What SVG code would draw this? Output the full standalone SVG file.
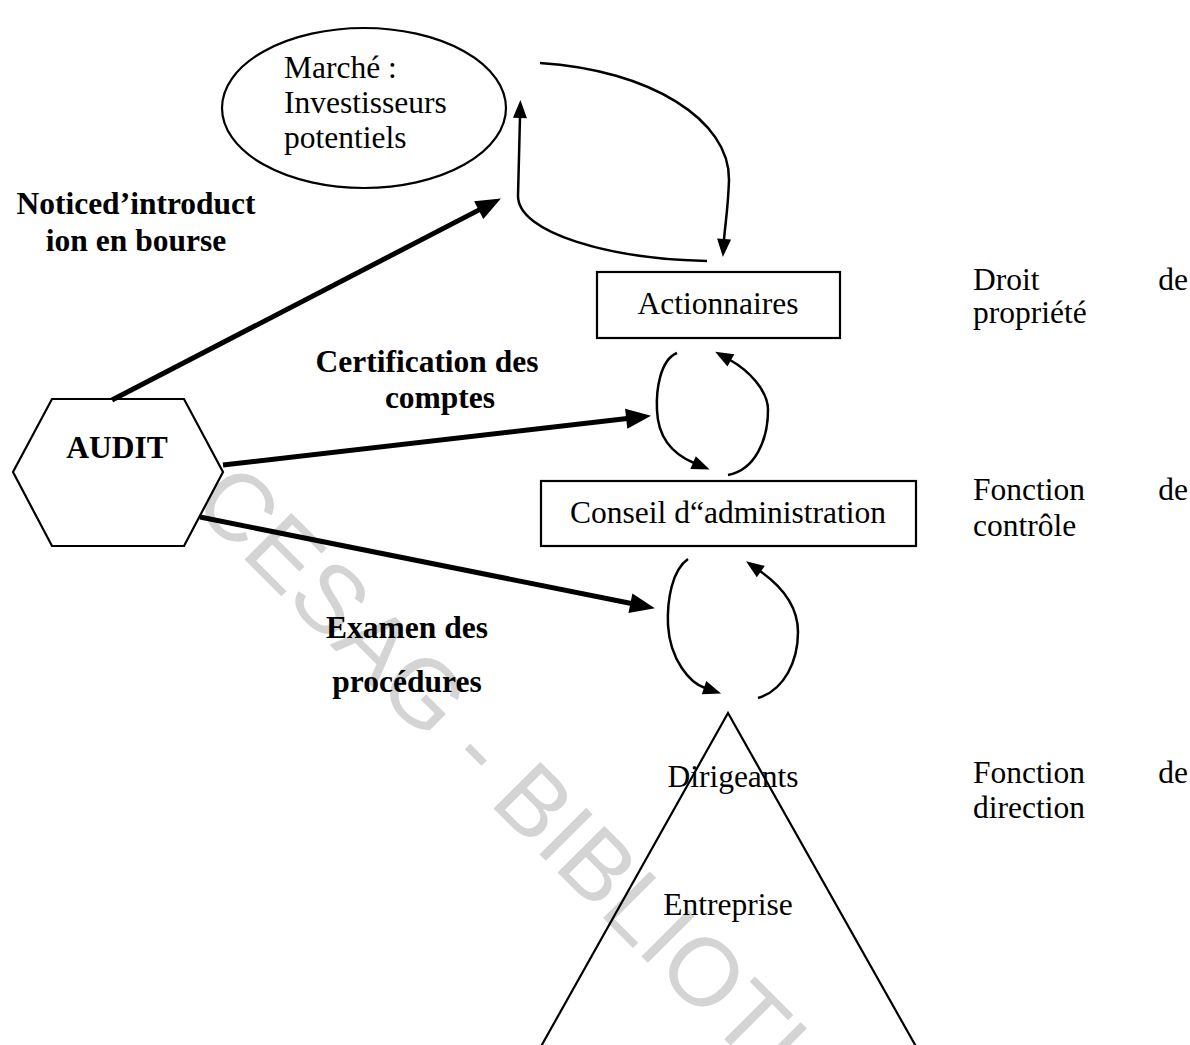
<svg xmlns="http://www.w3.org/2000/svg" width="1190" height="1045" viewBox="0 0 1190 1045">
  <style>
    .shape { fill: #fff; stroke: #000; stroke-width: 2.2; }
    .open { fill: none; stroke: #000; }
    .lbl { font-family: "Liberation Serif", "Times New Roman", serif; font-size: 31.5px; fill: #000; }
    .bold { font-weight: bold; }
    .mid { text-anchor: middle; }
    .end { text-anchor: end; }
    .thick { fill: none; stroke: #000; stroke-width: 5; }
    .thin { fill: none; stroke: #000; stroke-width: 2.5; }
    .wm { font-family: "Liberation Sans", Arial, sans-serif; font-size: 96px; fill: #d4d4d4; }
  </style>
  <defs>
    <marker id="headBig" markerUnits="userSpaceOnUse" markerWidth="27" markerHeight="21" refX="1" refY="10" orient="auto" overflow="visible">
      <path d="M0,0 L25,10 L0,20 z" fill="#000"/>
    </marker>
    <marker id="headSmall" markerUnits="userSpaceOnUse" markerWidth="20" markerHeight="16" refX="1" refY="7" orient="auto" overflow="visible">
      <path d="M0,0 L18,7 L0,14 z" fill="#000"/>
    </marker>
  </defs>

  <rect width="1190" height="1045" fill="#fff"/>

  <!-- library stamp -->
  <text class="wm" transform="translate(190,505) rotate(45)">CESAG - BIBLIOTHEQUE</text>

  <!-- nodes -->
  <g id="marche">
    <ellipse class="shape" cx="364" cy="108" rx="142" ry="80"/>
    <text class="lbl" x="284" y="78">Marché :</text>
    <text class="lbl" x="284" y="113">Investisseurs</text>
    <text class="lbl" x="284" y="148">potentiels</text>
  </g>

  <g id="audit">
    <polygon class="shape" points="52,399 184,399 223,472 184,546 52,546 13,472"/>
    <text class="lbl bold mid" x="117" y="458">AUDIT</text>
  </g>

  <g id="actionnaires">
    <rect class="shape" x="597" y="272" width="243" height="66"/>
    <text class="lbl mid" x="718" y="314">Actionnaires</text>
  </g>

  <g id="conseil">
    <rect class="shape" x="541" y="481" width="375" height="65"/>
    <text class="lbl mid" x="728" y="523">Conseil d“administration</text>
  </g>

  <g id="entreprise">
    <polyline class="open" stroke-width="2.2" points="539,1050 728,713 918,1050"/>
    <text class="lbl mid" x="733" y="787">Dirigeants</text>
    <text class="lbl mid" x="728" y="915">Entreprise</text>
  </g>

  <!-- edge labels -->
  <g id="labels">
    <text class="lbl bold mid" x="136" y="214">Noticed’introduct</text>
    <text class="lbl bold mid" x="136" y="251">ion en bourse</text>
    <text class="lbl bold mid" x="427" y="372">Certification des</text>
    <text class="lbl bold mid" x="440" y="408">comptes</text>
    <text class="lbl bold mid" x="407" y="638">Examen des</text>
    <text class="lbl bold mid" x="407" y="692">procédures</text>
  </g>

  <!-- side notes -->
  <g id="notes">
    <text class="lbl" x="973" y="290">Droit</text>
    <text class="lbl end" x="1188" y="290">de</text>
    <text class="lbl" x="973" y="323">propriété</text>
    <text class="lbl" x="973" y="500">Fonction</text>
    <text class="lbl end" x="1188" y="500">de</text>
    <text class="lbl" x="973" y="536">contrôle</text>
    <text class="lbl" x="973" y="783">Fonction</text>
    <text class="lbl end" x="1188" y="783">de</text>
    <text class="lbl" x="973" y="818">direction</text>
  </g>

  <!-- connectors -->
  <g id="connectors">
    <path class="thick" d="M112,400 L479.6,209.6" marker-end="url(#headBig)"/>
    <path class="thick" d="M223,465 L627.2,418.6" marker-end="url(#headBig)"/>
    <path class="thick" d="M200,517 L631.4,603.5" marker-end="url(#headBig)"/>

    <path class="thin" d="M540,63 C650,70 730,120 729,180 C728,210 725,225 724,240" marker-end="url(#headSmall)"/>
    <path class="thin" d="M707,261 C610,259 518,233 518,196 L520,117" marker-end="url(#headSmall)"/>

    <path class="thin" d="M677,353 C660,360 656,390 657,410 C658,440 675,455 694,463" marker-end="url(#headSmall)"/>
    <path class="thin" d="M728,475 C755,470 768,440 768,410 C768,390 748,370 730,360" marker-end="url(#headSmall)"/>

    <path class="thin" d="M688,559 C672,570 667,600 668,625 C670,660 690,683 705,688" marker-end="url(#headSmall)"/>
    <path class="thin" d="M758,698 C785,690 798,660 798,632 C798,605 780,585 760,571" marker-end="url(#headSmall)"/>
  </g>
</svg>
